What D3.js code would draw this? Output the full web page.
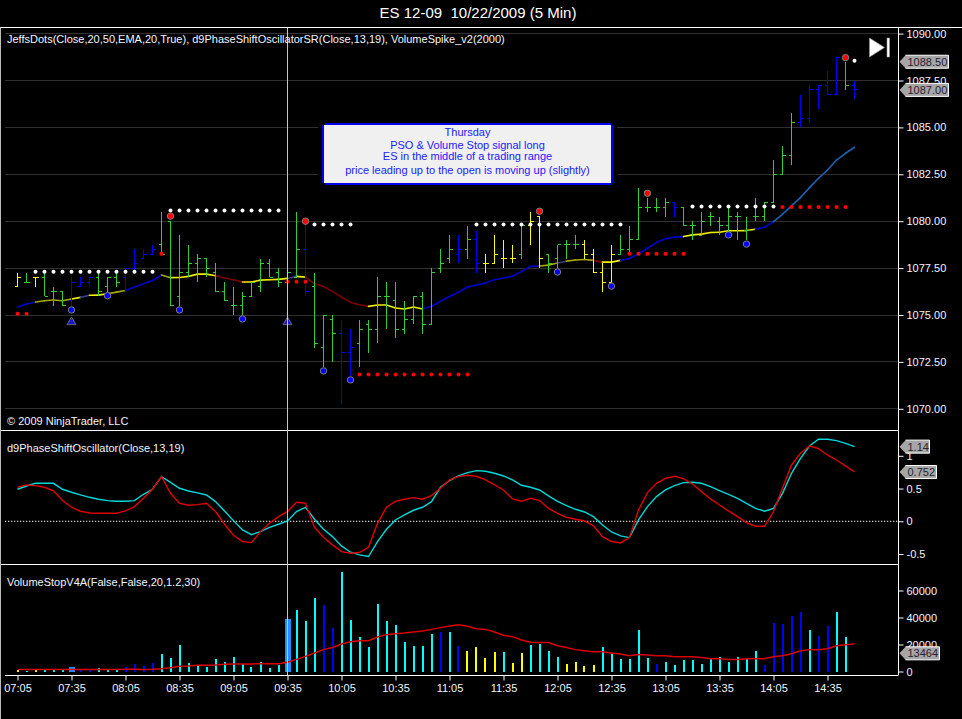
<!DOCTYPE html>
<html><head><meta charset="utf-8">
<script src="https://cdn.jsdelivr.net/npm/d3@7/dist/d3.min.js"></script>
<style>html,body{margin:0;padding:0;background:#000;overflow:hidden}svg{display:block}text{font-family:"Liberation Sans",Arial,sans-serif}</style>
</head><body><svg id="c" width="962" height="719"></svg>
<script>
const title = "ES 12-09  10/22/2009 (5 Min)";
const timeLabels = ["07:05","07:35","08:05","08:35","09:05","09:35","10:05","10:35","11:05","11:35","12:05","12:35","13:05","13:35","14:05","14:35"];
const priceTicks = [1090,1087.5,1085,1082.5,1080,1077.5,1075,1072.5,1070];
const oscTicks = [1,0.5,0,-0.5];
const volTicks = [60000,40000,20000,0];
const noteLines = ["Thursday","PSO & Volume Stop signal long","ES in the middle of a trading range","price leading up to the open is moving up (slightly)"];

const opens = [1076.5,1076.75,1077,1077,1076.25,1076.25,1075.75,1076.5,1076.75,1077,1076.5,1077,1077,1077.5,1078,1078.25,1078.75,1080,1076,1077.25,1077.75,1078,1077.25,1076.25,1075.5,1075.5,1076,1076.5,1077.75,1077.25,1076.75,1077,1078.5,1076.5,1073.25,1074.75,1074,1073,1073.5,1074.5,1074.25,1076,1075.75,1074.25,1074.75,1076,1074.5,1077.5,1078,1078.25,1078.5,1079,1077.75,1077.75,1078,1078,1078.25,1079.75,1080.25,1078.25,1078,1078.75,1078.75,1078.75,1078.25,1077.25,1076.75,1078.25,1078.5,1079,1080.75,1080.75,1080.75,1081,1080.75,1079.75,1079.25,1080.25,1080,1079.75,1080.25,1079.5,1080.25,1080.25,1081,1082.5,1083.5,1085.25,1085.5,1087,1087.25,1086.75,1088.75,1087.25];
const highs = [1077.25,1077.25,1077,1077.25,1076.5,1076.25,1077,1077,1077,1077.25,1077,1077.25,1077.5,1078.5,1078.5,1078.75,1080.5,1080,1079.25,1078.75,1078.25,1078,1077.75,1076.75,1076.5,1076.25,1076.75,1078,1078,1077.5,1077.75,1080.5,1080,1077.25,1075,1075,1074.75,1074.25,1074.75,1074.75,1077,1076.75,1076.75,1075.75,1076,1076.25,1077.5,1078.5,1079.25,1079.25,1079.75,1079.5,1078.25,1079.25,1079,1078.75,1079.75,1080.5,1080.25,1078.25,1078.75,1079,1079.25,1079,1078.5,1077.75,1078.75,1079.25,1079.75,1081.75,1081.25,1081.25,1081.25,1081,1080.75,1080,1080.5,1080.5,1080.25,1080.75,1080.5,1080.25,1081.25,1081,1083.25,1084,1085.75,1086.75,1087.25,1087.25,1088,1088.75,1088.5,1087.5];
const lows = [1076.5,1076.75,1076.5,1076,1075.5,1075.5,1075.5,1076.5,1076.5,1076,1076.25,1076.5,1076.25,1077.25,1078,1078.25,1078.25,1075.5,1075.5,1077,1076.75,1077,1076.25,1075.75,1075,1075,1076,1076.25,1077,1076.5,1075.5,1077,1076,1073.25,1072.25,1072.5,1070.25,1071.75,1072.25,1073,1073.5,1074.25,1073.75,1074,1074.5,1074,1074.5,1077.25,1077.75,1077.75,1078,1077.25,1077.25,1077.75,1077.5,1077.75,1078,1078.75,1077.5,1077.25,1077.5,1078,1078.5,1078,1077.25,1076.25,1076.5,1078.25,1078.25,1079,1080.5,1080.5,1080.25,1080.25,1079.75,1079,1079.25,1079.75,1079.25,1079.5,1079,1079,1080,1080,1081,1082.5,1083,1085,1085.25,1086,1086.75,1086.75,1087,1086.5];
const closes = [1077,1076.75,1077,1076,1076.25,1075.5,1076.75,1076.75,1077,1076.25,1077,1076.75,1077.5,1077.75,1078.25,1078.5,1078.25,1075.5,1077.25,1077.75,1078,1077.5,1076.25,1075.75,1075.5,1076,1076.75,1077.75,1077,1076.75,1077.25,1078.5,1076.25,1073.5,1075,1074,1073,1073.25,1074.25,1074.25,1076,1076,1074.25,1074.75,1076,1074.5,1077.25,1077.75,1078.5,1078.5,1079,1077.75,1077.75,1078.25,1078,1078,1079.75,1080,1078,1077.75,1078.75,1078.75,1078.75,1078.25,1077.25,1076.75,1078.25,1078.5,1079,1080.75,1080.75,1080.75,1081,1080.75,1079.75,1079.75,1080,1080.25,1079.75,1080.25,1080.25,1079.5,1080.25,1081,1082.5,1083.5,1085.25,1085.5,1087,1087.25,1086.75,1088.75,1087.25,1087];
const barKinds = "ygyggg bbbggg bbbbgggggg gggggggggg bgggbbgggg ggggggg bgbyyyy gyygggg yyyygg ggggbg gggggggggg gg bbbbb gbbgg".replace(/ /g,"");

const maValues = [1075.43,1075.59,1075.69,1075.76,1075.80,1075.76,1075.85,1075.94,1076.05,1076.06,1076.13,1076.22,1076.31,1076.49,1076.67,1076.84,1077.13,1076.99,1077.00,1077.06,1077.18,1077.18,1077.09,1076.97,1076.88,1076.76,1076.76,1076.86,1076.88,1076.90,1076.95,1077.06,1077.02,1076.67,1076.52,1076.26,1075.96,1075.67,1075.55,1075.46,1075.53,1075.53,1075.37,1075.32,1075.43,1075.32,1075.46,1075.73,1075.99,1076.21,1076.49,1076.60,1076.70,1076.88,1076.97,1077.07,1077.32,1077.59,1077.61,1077.66,1077.77,1077.87,1077.93,1077.96,1077.91,1077.82,1077.82,1077.91,1078.01,1078.26,1078.56,1078.87,1079.06,1079.15,1079.18,1079.27,1079.31,1079.40,1079.41,1079.49,1079.49,1079.50,1079.57,1079.68,1079.98,1080.37,1080.82,1081.26,1081.79,1082.29,1082.73,1083.26,1083.62,1083.94];
const maKinds = "bboooo ynyyoo bbbb oyyyyy rrr yyyyy nyrrrrrrr yyyyyy bbbbbbbbbbbbb oonooo ryy bbbbbbb yyyyyyyy bb sssssssss".replace(/ /g,"");

const whiteDotRuns = [[2,15,1077.3],[17,29,1080.57],[33,37,1079.82],[51,67,1079.82],[75,84,1080.78],[93,93,1088.55]];
const redDotRuns = [[0,1,1075.07],[16,16,1078.26],[30,32,1076.77],[38,50,1071.83],[68,74,1078.26],[85,92,1080.76]];
const bigRedIdx = [17,32,58,70,92];
const bigRedPrice = [1080.27,1080.0,1080.53,1081.49,1088.72];
const bigBlueIdx = [6,10,18,25,34,37,60,66,79,81];
const bigBluePrice = [1075.27,1076.03,1075.27,1074.79,1072.02,1071.54,1077.29,1076.54,1079.27,1078.78];
const triangleIdx = [6,30];
const trianglePrice = [1074.62,1074.62];

const oscCyan = [.489,.539,.58,.58,.58,.489,.443,.402,.366,.336,.316,.305,.305,.316,.412,.489,.682,.595,.504,.463,.433,.402,.30,.158,.01,-.132,-.204,-.158,-.092,-.046,.005,.148,.214,.031,-.122,-.234,-.377,-.473,-.514,-.539,-.31,-.122,.02,.097,.168,.214,.30,.519,.621,.692,.743,.774,.763,.733,.692,.631,.55,.519,.478,.387,.305,.239,.183,.142,.071,-.056,-.163,-.224,-.249,.02,.224,.377,.478,.545,.59,.595,.58,.529,.468,.412,.351,.275,.198,.153,.198,.427,.733,.962,1.15,1.252,1.252,1.232,1.191,1.14];
const oscRed = [.519,.555,.545,.519,.463,.316,.214,.153,.127,.122,.122,.122,.158,.224,.351,.489,.682,.427,.275,.244,.254,.275,.148,-.046,-.214,-.31,-.326,-.158,-.031,.071,.148,.29,.275,-.092,-.244,-.361,-.463,-.489,-.478,-.397,-.031,.214,.305,.336,.361,.336,.392,.504,.631,.682,.702,.687,.631,.555,.478,.341,.305,.351,.316,.198,.122,.061,.031,.005,-.071,-.234,-.31,-.331,-.249,.173,.438,.58,.656,.687,.651,.57,.453,.341,.249,.158,.071,-.02,-.076,-.076,.148,.504,.86,1.038,1.15,1.109,1.013,.936,.845,.752];

const volumes = [900,600,900,2100,900,900,3100,900,900,2800,900,1600,3100,5800,3800,6100,12700,9800,19400,6100,3800,3100,9000,6800,10500,5300,3100,6800,2300,4600,38700,45300,37200,54200,49000,32000,73500,37900,25300,17900,49800,37200,34200,21600,18600,18600,27500,29000,29000,18600,14900,17900,9800,14200,14200,6100,13500,19400,20100,14900,10500,5300,6800,3800,4600,17900,12700,9000,9000,30500,9800,5300,6800,4600,8300,8300,5300,9800,10500,6800,10500,9000,14900,4600,35700,35000,40900,43800,30500,26100,33500,43800,25300,13464];
const volKinds = "ycycccdbbccc bbbb cccccccccccccc dccc bbccccccccccc bcbyy yycyycccc yyyycccccc bccccccccccc bbbbbcbbcc".replace(/ /g,"");
const volMA = [1400,1400,1400,1400,1400,1400,1400,1400,1400,1400,1400,1400,1600,1600,1400,1600,2100,2800,3800,4100,4600,4600,4800,5300,5600,5600,5600,5800,5800,5800,6800,9000,11200,13700,16200,17700,20400,22100,22800,22800,25600,27300,28000,28500,29300,30000,31200,32500,33700,34700,33500,31700,31200,29300,26800,25800,23300,21600,21400,21400,19100,17700,16200,15400,14700,14700,13700,13000,11700,12500,12200,11700,11700,11000,11000,11000,10300,9500,9500,8800,8800,9500,9500,9500,11000,11700,13200,15400,16200,16200,16900,19100,19900,20600];

const paneLabels = [["JeffsDots(Close,20,50,EMA,20,True), d9PhaseShiftOscillatorSR(Close,13,19), VolumeSpike_v2(2000)",39],["\u00a9 2009 NinjaTrader, LLC",421],["d9PhaseShiftOscillator(Close,13,19)",448],["VolumeStopV4A(False,False,20,1.2,30)",582]];
const priceTags = [1088.5,1087];
const oscTags = [1.14,0.752];
const volTag = 13464;

const barColor = {y:"#ffff00",g:"#32cd32",b:"#0000ff"};
const maColor = {b:"#0000cd",o:"#a8a800",y:"#f0f000",n:"#3c3c90",r:"#7a0000",s:"#1e62b4"};
const volColor = {y:"#ffff00",c:"#00ffff",b:"#0000ff",d:"#1e90ff"};

const svg = d3.select("#c");
const X0=5, XR=898, TOP=27.5, S1=430.5, S2=564.5, BOT=675.5;
const n = closes.length;
const x = d3.scaleLinear().domain([0,n-1]).range([17.5,854.5]);
const yP = d3.scaleLinear().domain([1090,1070]).range([33.6,408.8]);
const yO = d3.scaleLinear().domain([1,-0.5]).range([455.8,554]);
const yV = d3.scaleLinear().domain([0,60000]).range([671.5,590.5]);
const fmtCross = "crispEdges";

// frame
const frame = svg.append("g");
frame.append("line").attr("x1",0).attr("x2",962).attr("y1",TOP).attr("y2",TOP).attr("stroke","#fff");
[S1,S2].forEach(y=>frame.append("line").attr("x1",0).attr("x2",XR).attr("y1",y).attr("y2",y).attr("stroke","#fff"));
frame.append("line").attr("x1",0.5).attr("x2",0.5).attr("y1",TOP).attr("y2",719).attr("stroke","#bbb");

svg.append("text").attr("x",478).attr("y",18).attr("text-anchor","middle").attr("fill","#fff").attr("font-size",15).style("white-space","pre").text(title);

// grid
svg.append("g").selectAll("line").data(priceTicks).join("line")
  .attr("x1",X0).attr("x2",XR).attr("y1",d=>Math.floor(yP(d))+.5).attr("y2",d=>Math.floor(yP(d))+.5)
  .attr("stroke","#303030");

// moving average
const gMA = svg.append("g").attr("fill","none").attr("stroke-width",1.6);
const line2 = d3.line().x(d=>x(d[0])).y(d=>yP(d[1]));
d3.range(n-1).forEach(i=>{
  gMA.append("path").attr("d",line2([[i,maValues[i]],[i+1,maValues[i+1]]])).attr("stroke",maColor[maKinds[i]]).attr("stroke-linecap","round");
});

// OHLC bars
const gB = svg.append("g").attr("shape-rendering","crispEdges");
const bar = gB.selectAll("g").data(d3.range(n)).join("g").attr("stroke",i=>barColor[barKinds[i]]);
bar.append("line").attr("x1",i=>x(i)).attr("x2",i=>x(i)).attr("y1",i=>yP(highs[i])).attr("y2",i=>yP(lows[i]));
bar.append("line").attr("x1",i=>x(i)-3).attr("x2",i=>x(i)).attr("y1",i=>yP(opens[i])).attr("y2",i=>yP(opens[i]));
bar.append("line").attr("x1",i=>x(i)).attr("x2",i=>x(i)+3).attr("y1",i=>yP(closes[i])).attr("y2",i=>yP(closes[i]));

// dots
const runsToPts = runs => runs.flatMap(([a,b,p])=>d3.range(a,b+1).map(i=>[i,p]));
svg.append("g").selectAll("circle").data(runsToPts(whiteDotRuns)).join("circle").attr("cx",d=>x(d[0])).attr("cy",d=>yP(d[1])).attr("r",2).attr("fill","#fff");
svg.append("g").selectAll("circle").data(runsToPts(redDotRuns)).join("circle").attr("cx",d=>x(d[0])).attr("cy",d=>yP(d[1])).attr("r",2).attr("fill","#ff0000");
svg.append("g").selectAll("circle").data(bigRedIdx).join("circle").attr("cx",d=>x(d)).attr("cy",(d,i)=>yP(bigRedPrice[i])).attr("r",3.2).attr("fill","#ff0000").attr("stroke","#808080");
svg.append("g").selectAll("circle").data(bigBlueIdx).join("circle").attr("cx",d=>x(d)).attr("cy",(d,i)=>yP(bigBluePrice[i])).attr("r",3.2).attr("fill","#0000ff").attr("stroke","#808080");
const tri = d3.symbol().type(d3.symbolTriangle).size(34);
svg.append("g").selectAll("path").data(triangleIdx).join("path").attr("d",tri).attr("transform",(d,i)=>`translate(${x(d)},${yP(trianglePrice[i])})`).attr("fill","#1414e0").attr("stroke","#6a6a6a");

// note box
const note = svg.append("g");
note.append("rect").attr("x",318).attr("y",119).attr("width",299).attr("height",70).attr("fill","#000");
note.append("rect").attr("x",322).attr("y",125).attr("width",291).attr("height",58).attr("fill","#0000f0");
note.append("rect").attr("x",325).attr("y",123).attr("width",286).attr("height",62).attr("fill","#0000f0");
note.append("rect").attr("x",324).attr("y",125).attr("width",287).attr("height",58).attr("fill","#f0f0f0");
note.selectAll("text").data(noteLines).join("text").attr("x",467.5).attr("y",(d,i)=>[135.5,148.5,160,173.5][i]).attr("text-anchor","middle").attr("font-size",11).attr("fill","#2020ff").text(d=>d);

// oscillator
svg.append("line").attr("x1",X0).attr("x2",XR).attr("y1",yO(0)).attr("y2",yO(0)).attr("stroke","#fff").attr("stroke-dasharray","1.3 1.7");
const lineO = d3.line().x((d,i)=>x(i)).y(d=>yO(d));
svg.append("path").attr("d",lineO(oscCyan)).attr("fill","none").attr("stroke","#00d8d8").attr("stroke-width",1.4);
svg.append("path").attr("d",lineO(oscRed)).attr("fill","none").attr("stroke","#e00000").attr("stroke-width",1.4);

// volume
const volW = k => k==="d"?6:2;
svg.append("g").attr("shape-rendering","crispEdges").selectAll("rect").data(volumes).join("rect")
  .attr("x",(d,i)=>Math.round(x(i)-volW(volKinds[i])/2)).attr("width",(d,i)=>volW(volKinds[i]))
  .attr("y",d=>yV(d)).attr("height",d=>yV(0)-yV(d)).attr("fill",(d,i)=>volColor[volKinds[i]]);
svg.append("path").attr("d",d3.line().x((d,i)=>x(i)).y(d=>yV(d))(volMA)).attr("fill","none").attr("stroke","#dc0000").attr("stroke-width",1.5);

// crosshair
svg.append("line").attr("x1",x(30)).attr("x2",x(30)).attr("y1",TOP).attr("y2",BOT).attr("stroke","#c8c8c8").attr("shape-rendering","crispEdges");

// axes
function styleAxis(g){
  g.attr("font-size",11).attr("font-family","Liberation Sans, Arial, sans-serif");
  g.selectAll("text").attr("fill","#f2f6ff");
  g.selectAll("line").attr("stroke","#fff");
  g.selectAll(".domain").remove();
}
const ax = sel => sel.attr("transform",`translate(${XR+.5},0)`);
svg.append("g").call(ax).call(d3.axisRight(yP).tickValues(priceTicks).tickSize(5).tickPadding(3).tickFormat(d3.format(".2f"))).call(styleAxis);
svg.append("g").call(ax).call(d3.axisRight(yO).tickValues(oscTicks).tickSize(5).tickPadding(3).tickFormat(d=>d)).call(styleAxis);
svg.append("g").call(ax).call(d3.axisRight(yV).tickValues(volTicks).tickSize(5).tickPadding(3).tickFormat(d=>d)).call(styleAxis);
svg.append("line").attr("x1",XR+.5).attr("x2",XR+.5).attr("y1",TOP).attr("y2",BOT).attr("stroke","#fff");
const timeTickIdx = timeLabels.map((d,i)=>i*6);
svg.append("g").attr("transform",`translate(0,${BOT})`).call(d3.axisBottom(x).tickValues(timeTickIdx).tickSize(5).tickPadding(4).tickFormat((d,i)=>timeLabels[i])).call(styleAxis);
svg.append("line").attr("x1",X0).attr("x2",XR).attr("y1",BOT).attr("y2",BOT).attr("stroke","#fff");

// pane labels
svg.append("g").selectAll("text").data(paneLabels).join("text").attr("x",7).attr("y",d=>d[1]+4).attr("font-size",11).attr("fill","#f2f6ff").text(d=>d[0]);

// value tags
function tag(y,label,w){
  const xl=XR+1.5,h=6.5,g=svg.append("g");
  g.append("path").attr("d",`M${xl},${y} L${xl+6},${y-h} H${xl+w} V${y+h} H${xl+6} Z`).attr("fill","#a6a6a6");
  g.append("path").attr("d",`M${xl+6},${y-h} H${xl+w} V${y+h} H${xl+6}`).attr("fill","none").attr("stroke","#fff");
  g.append("text").attr("x",xl+8).attr("y",y+4).attr("font-size",11).attr("fill","#2a2030").text(label);
}
priceTags.forEach(p=>tag(yP(p),d3.format(".2f")(p),49));
oscTags.forEach((v,i)=>tag(yO(v),String(v),[30,37][i]));
tag(yV(volTag),String(volTag),40);

// go-to-end icon
const ic = svg.append("g").attr("fill","#fff").attr("stroke","#999").attr("stroke-width",.6);
ic.append("path").attr("d","M869.5,38 L884.5,47.5 L869.5,57 Z");
ic.append("rect").attr("x",887).attr("y",38).attr("width",2.5).attr("height",19);
</script></body></html>
